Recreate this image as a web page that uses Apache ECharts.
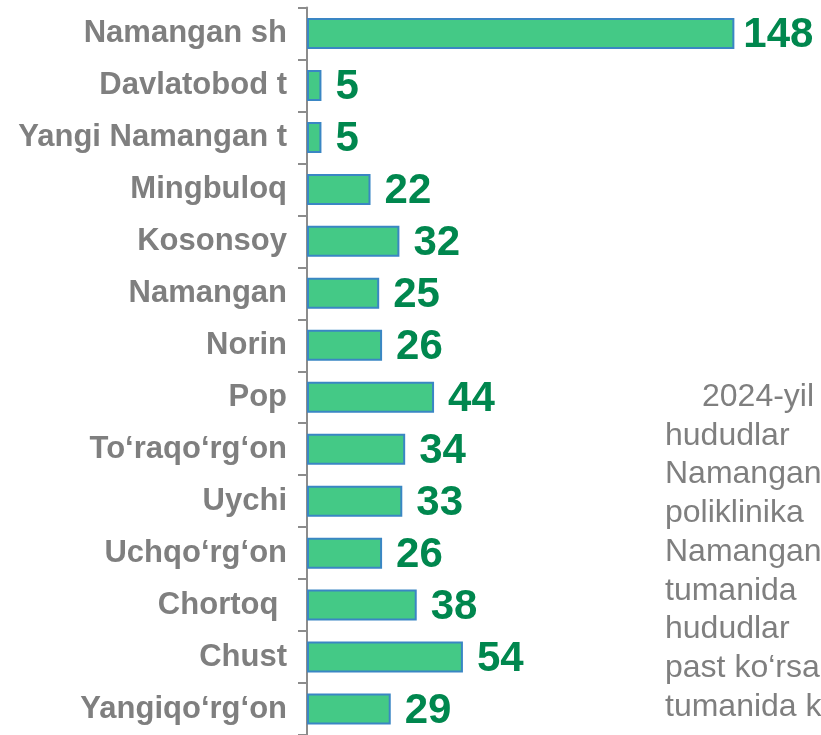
<!DOCTYPE html>
<html>
<head>
<meta charset="utf-8">
<script src="https://cdn.jsdelivr.net/npm/echarts@6/dist/echarts.min.js"></script>
<style>
  html, body { margin: 0; padding: 0; background: #fff; }
  #chart { width: 821px; height: 735px; }
</style>
</head>
<body>
<div id="chart"></div>
<script>
const regions = [
  "Namangan sh", "Davlatobod t", "Yangi Namangan t", "Mingbuloq", "Kosonsoy",
  "Namangan", "Norin", "Pop", "To‘raqo‘rg‘on", "Uychi", "Uchqo‘rg‘on",
  "Chortoq ", "Chust", "Yangiqo‘rg‘on"
];
const counts = [148, 5, 5, 22, 32, 25, 26, 44, 34, 33, 26, 38, 54, 29];

// side note, cut off at the right edge in the original slide
const noteLines = [
  "2024-yil", "hududlar", "Namangan", "poliklinika", "Namangan",
  "tumanida", "hududlar", "past ko‘rsa", "tumanida k"
];

const FONT = "'Liberation Sans', Arial, sans-serif";

const chart = echarts.init(document.getElementById("chart"));

const noteText = noteLines.map((t, i) => ({
  type: "text",
  left: i === 0 ? 702 : 665,
  top: 381 + i * 38.75,
  style: { text: t, fill: "#7f7f7f", font: "32px " + FONT }
}));

// the long first bar has its label tucked a little closer
const barData = counts.map((v, i) => i === 0 ? { value: v, label: { distance: 9 } } : v);

const option = {
  backgroundColor: "#fff",
  animation: false,
  grid: { left: 307, top: 7.5, right: 0, height: 728 },
  xAxis: { type: "value", min: 0, max: 178, show: false },
  yAxis: {
    type: "category",
    data: regions,
    inverse: true,
    axisLine: { show: true, lineStyle: { color: "#8c8c8c", width: 2 } },
    axisTick: { show: true, inside: false, length: 9, lineStyle: { color: "#8c8c8c", width: 2 } },
    axisLabel: {
      margin: 20,
      color: "#7f7f7f",
      fontSize: 31,
      fontWeight: "bold",
      fontFamily: FONT
    }
  },
  series: [{
    type: "bar",
    data: barData,
    barWidth: 31,
    itemStyle: { color: "#44c986", borderColor: "#3a86c4", borderWidth: 2 },
    label: {
      show: true,
      position: "right",
      distance: 14,
      color: "#00874e",
      fontSize: 42,
      fontWeight: "bold",
      fontFamily: FONT,
      offset: [0, 2]
    }
  }],
  graphic: noteText
};

chart.setOption(option);
</script>
</body>
</html>
